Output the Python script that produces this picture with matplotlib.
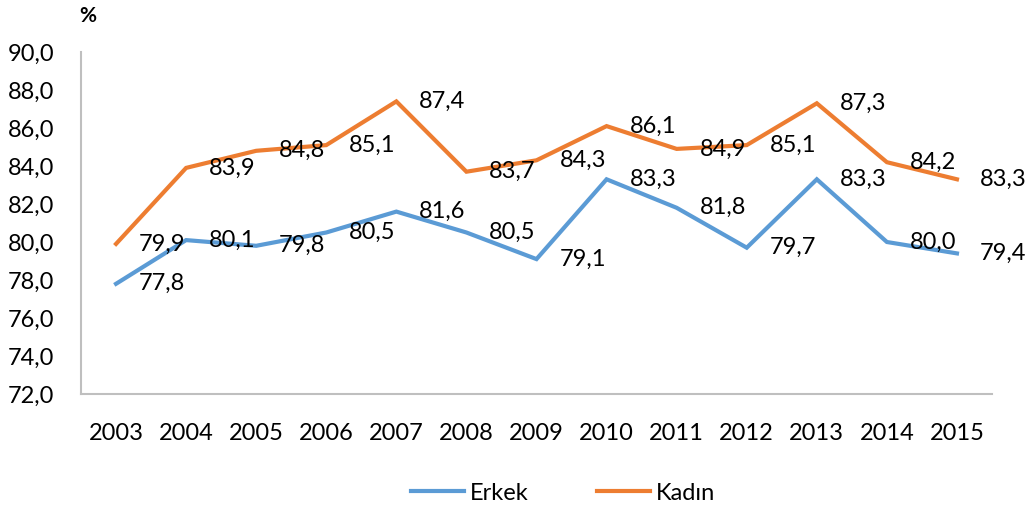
import numpy as np
from matplotlib import pyplot as plt

plt.rcParams['font.family'] = ['Lato', 'DejaVu Sans']

years = ['2003', '2004', '2005', '2006', '2007', '2008', '2009',
         '2010', '2011', '2012', '2013', '2014', '2015']
erkek = [77.8, 80.1, 79.8, 80.5, 81.6, 80.5, 79.1, 83.3, 81.8, 79.7, 83.3, 80.0, 79.4]
kadin = [79.9, 83.9, 84.8, 85.1, 87.4, 83.7, 84.3, 86.1, 84.9, 85.1, 87.3, 84.2, 83.3]

blue = '#5B9BD5'
orange = '#ED7D31'
fs = 17

fig = plt.figure(figsize=(10.28, 5.07), dpi=100)
ax = fig.add_axes([81 / 1028, 1 - 394 / 507, 911 / 1028, 342 / 507])

x = np.arange(len(years))
ax.plot(x, erkek, color=blue, lw=3, label='Erkek', solid_joinstyle='miter')
ax.plot(x, kadin, color=orange, lw=3, label='Kadın', solid_joinstyle='miter')

# data labels to the right of each point
for series in (erkek, kadin):
    for xi, v in zip(x, series):
        ax.annotate(f'{v:.1f}'.replace('.', ','), (xi, v), xytext=(16.5, 0),
                    textcoords='offset points', ha='left', va='center',
                    fontsize=fs, color='#000000', annotation_clip=False)

ax.set_xlim(-0.5, len(years) - 0.5)
ax.set_ylim(72, 90)
ax.set_yticks(np.arange(72, 90.1, 2))
ax.set_yticklabels([f'{t:.1f}'.replace('.', ',') for t in np.arange(72, 90.1, 2)])
ax.set_xticks(x)
ax.set_xticklabels(years)
ax.tick_params(axis='both', length=0, labelsize=fs)
ax.tick_params(axis='y', pad=19)
ax.tick_params(axis='x', pad=21)

for s in ('top', 'right'):
    ax.spines[s].set_visible(False)
for s in ('left', 'bottom'):
    ax.spines[s].set_color('#BFBFBF')
    ax.spines[s].set_linewidth(1.5)

fig.text(88 / 1028, 1 - 16 / 507, '%', ha='center', va='center',
         fontsize=15, fontweight='bold')

fig.legend(loc='center', bbox_to_anchor=(563 / 1028, 1 - 493 / 507), ncol=2,
           frameon=False, fontsize=fs, handlelength=2.25, handletextpad=0.25,
           columnspacing=2.9)

fig.savefig('out.png', dpi=100)
